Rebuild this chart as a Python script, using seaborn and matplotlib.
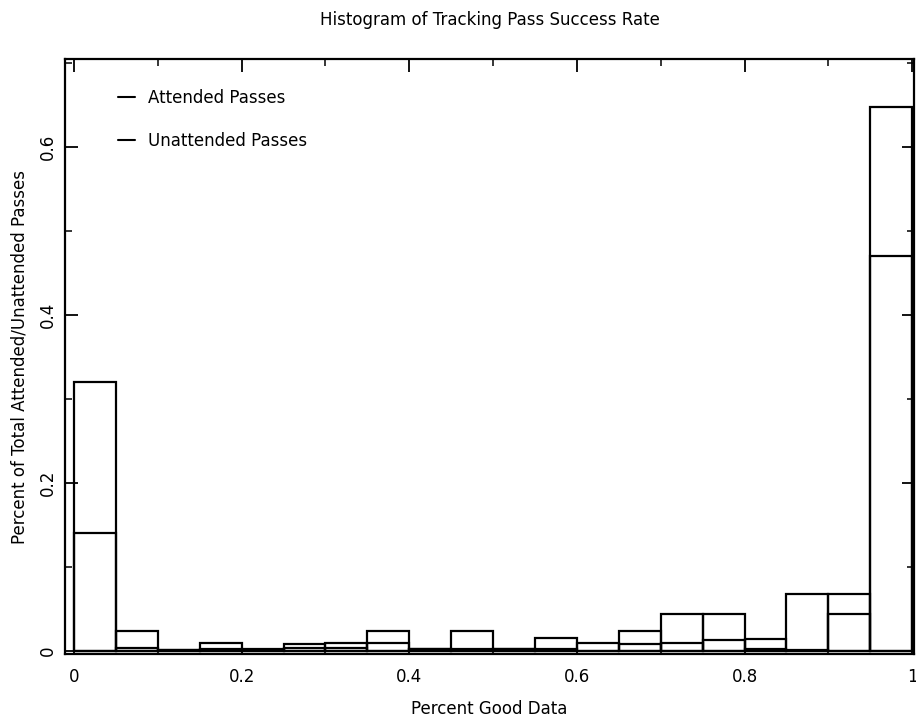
import numpy as np
import pandas as pd
import matplotlib.pyplot as plt
import seaborn as sns
from matplotlib.lines import Line2D
from matplotlib.ticker import MultipleLocator

# histogram bins: 20 bins of width 0.05 over [0, 1]
bin_width = 0.05
bin_centers = np.arange(20) * bin_width + bin_width / 2

# fraction of passes per bin
attended = [0.140, 0.023, 0.001, 0.009, 0.001, 0.008, 0.003, 0.023, 0.002, 0.002,
            0.002, 0.015, 0.000, 0.008, 0.044, 0.013, 0.014, 0.001, 0.068, 0.648]
unattended = [0.320, 0.003, 0.001, 0.002, 0.002, 0.003, 0.009, 0.009, 0.002, 0.023,
              0.002, 0.002, 0.009, 0.023, 0.009, 0.044, 0.002, 0.068, 0.044, 0.471]

df = pd.concat([
    pd.DataFrame({'x': bin_centers, 'w': attended, 'kind': 'Attended Passes'}),
    pd.DataFrame({'x': bin_centers, 'w': unattended, 'kind': 'Unattended Passes'}),
])

sns.set_style('ticks')
plt.rcParams['font.family'] = ['DejaVu Sans']
plt.rcParams['text.color'] = 'black'
plt.rcParams['axes.labelcolor'] = 'black'
plt.rcParams['xtick.color'] = 'black'
plt.rcParams['ytick.color'] = 'black'
plt.rcParams['axes.edgecolor'] = 'black'

fig = plt.figure(figsize=(9.16, 7.22), dpi=100)
ax = fig.add_axes([0.071, 0.094, 0.927, 0.824])

sns.histplot(data=df, x='x', weights='w', hue='kind', binwidth=bin_width,
             binrange=(0, 1), element='bars', fill=False,
             palette=['black', 'black'], linewidth=1.6, legend=False, ax=ax)

ax.set_xlim(-0.0107, 1.0024)
ax.set_ylim(-0.004, 0.705)

ax.xaxis.set_minor_locator(MultipleLocator(0.1))
ax.yaxis.set_minor_locator(MultipleLocator(0.1))
ax.set_xticks([0, 0.2, 0.4, 0.6, 0.8, 1.0])
ax.set_xticklabels(['0', '0.2', '0.4', '0.6', '0.8', '1'])
ax.set_yticks([0, 0.2, 0.4, 0.6])
ax.set_yticklabels(['0', '0.2', '0.4', '0.6'], rotation=90, va='center')
ax.tick_params(which='both', direction='in', top=True, right=True, labelsize=12)
ax.tick_params(which='major', length=9, width=1.3)
ax.tick_params(which='minor', length=5, width=1.1)
ax.tick_params(axis='x', which='major', pad=10)
ax.tick_params(axis='y', which='major', pad=6)
for s in ax.spines.values():
    s.set_linewidth(1.6)

ax.set_xlabel('Percent Good Data', fontsize=12, labelpad=10)
ax.set_ylabel('Percent of Total Attended/Unattended Passes', fontsize=12, labelpad=7)
fig.suptitle('Histogram of Tracking Pass Success Rate', fontsize=12, x=0.535, y=0.985)

handles = [Line2D([], [], color='black', lw=1.5) for _ in range(2)]
ax.legend(handles, ['Attended Passes', 'Unattended Passes'], loc='upper left',
          bbox_to_anchor=(0.045, 0.975), frameon=False, fontsize=12,
          handlelength=1.0, handletextpad=0.8, labelspacing=1.5)

fig.savefig('out.png', dpi=100)
